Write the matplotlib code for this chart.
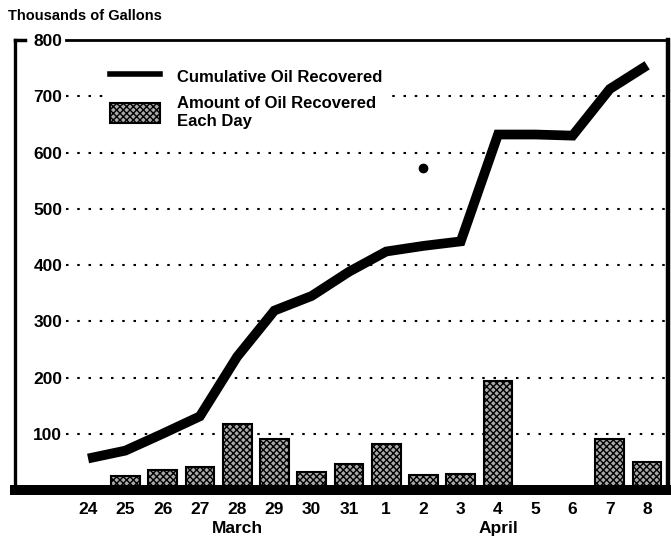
import matplotlib.pyplot as plt
from matplotlib.lines import Line2D
from matplotlib.patches import Patch

# days from 24 March to 8 April
days = ["24", "25", "26", "27", "28", "29", "30", "31",
        "1", "2", "3", "4", "5", "6", "7", "8"]
months = ["March", "April"]
month_at = [4, 11]  # index of the day under which the month name sits

# thousands of gallons
cumulative = [56, 70, 100, 131, 237, 319, 345, 388,
              424, 434, 442, 632, 632, 630, 713, 755]
daily = [0, 25, 35, 40, 118, 90, 32, 47,
         81, 27, 28, 193, 0, 0, 90, 49]
stray_dot = (9, 573)

y_ticks = [100, 200, 300, 400, 500, 600, 700, 800]

plt.rcParams["font.family"] = ["Liberation Sans", "DejaVu Sans"]
plt.rcParams["font.weight"] = "bold"
plt.rcParams["hatch.linewidth"] = 1.0

fig = plt.figure(figsize=(6.71, 5.4), dpi=100)
ax = fig.add_axes([0.0224, 0.0926, 0.9731, 0.8333])

x = list(range(len(days)))

bar_style = dict(facecolor="#a9a9a9", edgecolor="black", hatch="xxxxx",
                 linewidth=1.5)
ax.bar(x, daily, width=0.77, zorder=2, **bar_style)
ax.plot(x, cumulative, color="black", linewidth=7, solid_joinstyle="miter",
        solid_capstyle="butt", zorder=3)
ax.plot(*stray_dot, "o", color="black", markersize=6, zorder=3)

ax.set_xlim(-1.96, 15.56)
ax.set_ylim(0, 800)

# dotted gridlines start just to the right of the inside labels
for y in y_ticks[:-1]:
    ax.axhline(y, xmin=0.078, xmax=1, color="black", linewidth=1.5,
               linestyle=(0, (1.2, 4.2)), zorder=1)
ax.axhline(800, xmin=0.078, xmax=1, color="black", linewidth=2, zorder=4,
           clip_on=False)
ax.axhline(800, xmin=0, xmax=0.016, color="black", linewidth=2.5, zorder=4,
           clip_on=False)

ax.spines["top"].set_visible(False)
ax.spines["left"].set_linewidth(2.4)
ax.spines["right"].set_linewidth(3.2)
ax.spines["bottom"].set_linewidth(7.2)
ax.spines["bottom"].set_zorder(5)

ax.set_yticks(y_ticks)
ax.set_yticklabels([str(v) for v in y_ticks], fontsize=12.5)
ax.tick_params(axis="y", length=0, pad=-34)
ax.set_xticks(x)
ax.set_xticklabels(days, fontsize=12.5)
ax.tick_params(axis="x", length=0, pad=9)

for m, i in zip(months, month_at):
    ax.text(i, -0.085, m, transform=ax.get_xaxis_transform(), ha="center",
            va="center", fontsize=12.5)

fig.text(0.012, 0.97, "Thousands of Gallons", fontsize=10.5, va="center",
         ha="left")

handles = [
    Line2D([], [], color="black", linewidth=4),
    Patch(**bar_style),
]
leg = ax.legend(handles, ["Cumulative Oil Recovered",
                          "Amount of Oil Recovered\nEach Day"],
                loc="upper left", bbox_to_anchor=(0.125, 0.97),
                frameon=True, facecolor="white", edgecolor="none",
                framealpha=1, handlelength=3.0,
                handleheight=1.4, handletextpad=1.0, labelspacing=0.6,
                borderpad=0.3, fancybox=False,
                prop={"size": 12, "weight": "bold", "family": ["Liberation Sans"]})
leg.set_zorder(6)
for t in leg.get_texts():
    t.set_linespacing(1.25)

fig.savefig("out.png", dpi=100)
